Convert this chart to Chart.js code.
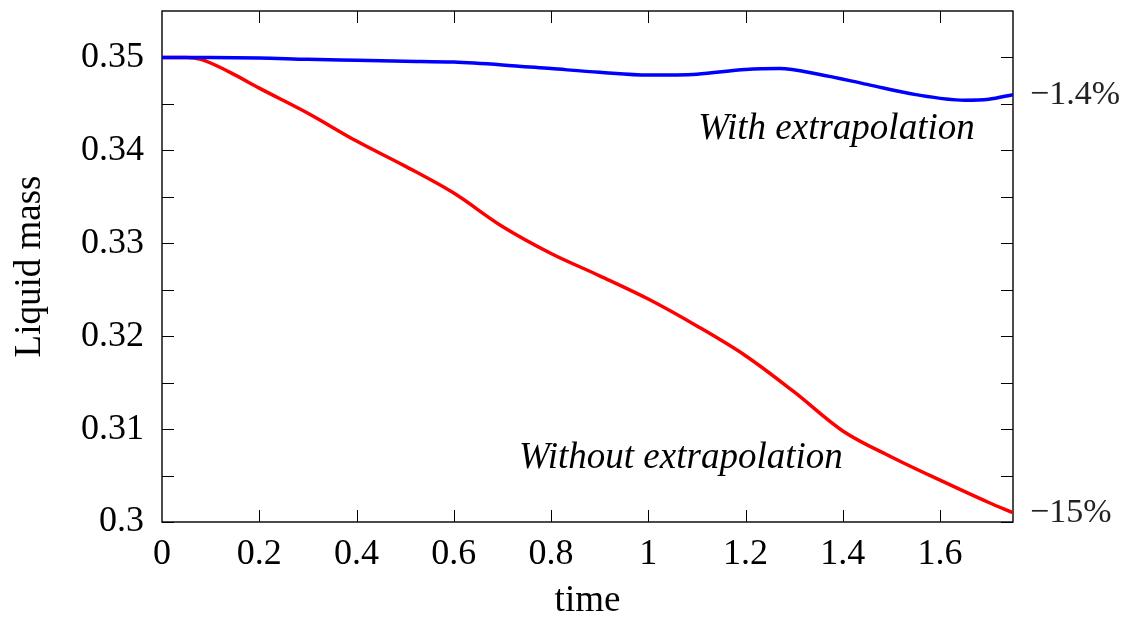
<!DOCTYPE html>
<html>
<head>
<meta charset="utf-8">
<script src="https://cdn.jsdelivr.net/npm/chart.js@4.4.1/dist/chart.umd.min.js"></script>
<style>
  html, body { margin: 0; padding: 0; background: #fff; }
  #wrap { width: 1128px; height: 623px; }
</style>
</head>
<body>
<div id="wrap"><canvas id="chart"></canvas></div>
<script>
// values
const blueTime = [0, 0.1, 0.2, 0.3, 0.4, 0.5, 0.6, 0.7, 0.8, 0.9, 1.0, 1.1, 1.2, 1.27, 1.35, 1.45, 1.55, 1.65, 1.7, 1.75]
const blueMass = [0.35, 0.35, 0.34995, 0.3498, 0.3497, 0.3496, 0.3495, 0.3492, 0.3488, 0.3484, 0.3481, 0.3482, 0.3487, 0.3488, 0.3482, 0.3471, 0.3460, 0.3454, 0.3455, 0.3460]

const redTime = [0, 0.05, 0.08, 0.14, 0.2, 0.3, 0.4, 0.5, 0.6, 0.7, 0.8, 0.9, 1.0, 1.1, 1.2, 1.3, 1.4, 1.5, 1.6, 1.7, 1.75]
const redMass = [0.35, 0.35, 0.3498, 0.3484, 0.3467, 0.3440, 0.3410, 0.3383, 0.3354, 0.3318, 0.3289, 0.3265, 0.3240, 0.3211, 0.3179, 0.3140, 0.3098, 0.3070, 0.3045, 0.3021, 0.3010]

const xTicks = [0, 0.2, 0.4, 0.6, 0.8, 1, 1.2, 1.4, 1.6]
const yTicks = [0.3, 0.31, 0.32, 0.33, 0.34, 0.35]
const yTickMarks = [0.3, 0.305, 0.31, 0.315, 0.32, 0.325, 0.33, 0.335, 0.34, 0.345, 0.35]
const endLabels = ['\u22121.4%', '\u221215%']

const notes = [
  { text: 'With extrapolation', x: 1.387, y: 0.3412 },
  { text: 'Without extrapolation', x: 1.067, y: 0.30585 }
]

const serif = "'Liberation Serif', 'Times New Roman', serif"

const toPoints = (xs, ys) => xs.map((x, i) => ({ x: x, y: ys[i] }))

// chart.js pads vertical axes by half a label, the picture does not
const noPad = s => { s.paddingTop = 0; s.paddingBottom = 0 }

// frame + inward tick marks like pgfplots
const framePlugin = {
  id: 'frame',
  beforeDatasetsDraw(chart) {
    const ctx = chart.ctx
    const a = chart.chartArea
    const xs = chart.scales.x
    const ys = chart.scales.y
    const len = 12
    ctx.save()
    ctx.strokeStyle = '#000'
    ctx.lineWidth = 1
    ctx.beginPath()
    xTicks.forEach(v => {
      if (v === 0) return
      const px = Math.round(xs.getPixelForValue(v)) + 0.5
      ctx.moveTo(px, a.bottom); ctx.lineTo(px, a.bottom - len)
      ctx.moveTo(px, a.top); ctx.lineTo(px, a.top + len)
    })
    yTickMarks.forEach(v => {
      const py = Math.round(ys.getPixelForValue(v)) + 0.5
      ctx.moveTo(a.left, py); ctx.lineTo(a.left + len, py)
      ctx.moveTo(a.right, py); ctx.lineTo(a.right - len, py)
    })
    ctx.stroke()
    ctx.lineWidth = 1.4
    ctx.strokeRect(a.left, a.top, a.right - a.left, a.bottom - a.top)
    ctx.restore()
  },
  afterDatasetsDraw(chart) {
    const ctx = chart.ctx
    const xs = chart.scales.x
    const ys = chart.scales.y
    ctx.save()
    ctx.fillStyle = '#000'
    ctx.font = 'italic 37px ' + serif
    ctx.textAlign = 'center'
    ctx.textBaseline = 'alphabetic'
    notes.forEach(n => {
      ctx.fillText(n.text, xs.getPixelForValue(n.x), ys.getPixelForValue(n.y))
    })
    ctx.restore()
  }
}

const chart = new Chart(document.getElementById('chart'), {
  type: 'line',
  data: {
    datasets: [
      {
        label: 'With extrapolation',
        data: toPoints(blueTime, blueMass),
        borderColor: '#0000ff',
        borderWidth: 3.5,
        pointRadius: 0,
        cubicInterpolationMode: 'monotone',
        fill: false
      },
      {
        label: 'Without extrapolation',
        data: toPoints(redTime, redMass),
        borderColor: '#ff0000',
        borderWidth: 3.5,
        pointRadius: 0,
        cubicInterpolationMode: 'monotone',
        fill: false
      }
    ]
  },
  options: {
    responsive: true,
    maintainAspectRatio: false,
    animation: false,
    layout: { padding: { top: 11, left: 0, right: 0, bottom: 0 } },
    plugins: {
      legend: { display: false },
      tooltip: { enabled: false }
    },
    scales: {
      x: {
        type: 'linear',
        min: 0,
        max: 1.75,
        afterBuildTicks: s => { s.ticks = xTicks.map(v => ({ value: v })) },
        afterFit: s => { s.height = 101; s.paddingLeft = 0; s.paddingRight = 0 },
        grid: { display: false, drawTicks: false },
        border: { display: false },
        ticks: {
          autoSkip: false,
          maxRotation: 0,
          padding: 11,
          color: '#000',
          font: { family: serif, size: 36 },
          callback: v => String(v)
        },
        title: {
          display: true,
          text: 'time',
          color: '#000',
          padding: { top: 0, bottom: 0 },
          font: { family: serif, size: 37 }
        }
      },
      y: {
        type: 'linear',
        min: 0.3,
        max: 0.355,
        afterBuildTicks: s => { s.ticks = yTicks.map(v => ({ value: v })) },
        afterFit: s => { s.width = 162; noPad(s) },
        grid: { display: false, drawTicks: false },
        border: { display: false },
        ticks: {
          autoSkip: false,
          padding: 18,
          color: '#000',
          font: { family: serif, size: 36 },
          callback: v => String(v)
        },
        title: {
          display: true,
          text: 'Liquid mass',
          color: '#000',
          padding: { top: 8, bottom: 0 },
          font: { family: serif, size: 37 }
        }
      },
      y2: {
        type: 'linear',
        position: 'right',
        min: 0.3,
        max: 0.355,
        afterBuildTicks: s => {
          s.ticks = [blueMass[blueMass.length - 1], redMass[redMass.length - 1]].map(v => ({ value: v }))
        },
        afterFit: s => { s.width = 115; noPad(s) },
        grid: { display: false, drawTicks: false },
        border: { display: false },
        ticks: {
          autoSkip: false,
          padding: 17,
          color: '#222',
          font: { family: serif, size: 34 },
          callback: (v, i) => endLabels[i]
        }
      }
    }
  },
  plugins: [framePlugin]
})
</script>
</body>
</html>
